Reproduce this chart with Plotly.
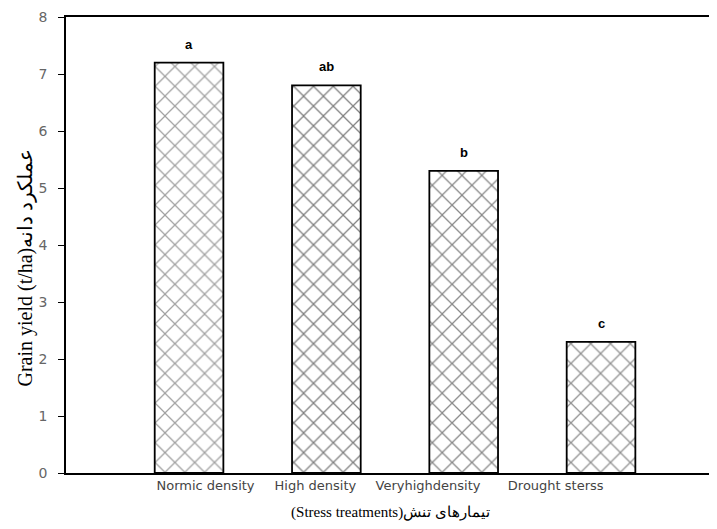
import plotly.graph_objects as go

categories = ["Normic density", "High density", "Veryhighdensity", "Drought sterss"]
grain_yield = [7.2, 6.8, 5.3, 2.3]
letters = ["a", "ab", "b", "c"]
y_ticks = [0, 1, 2, 3, 4, 5, 6, 7, 8]

bar_x = list(range(len(categories)))
label_x = [0.12, 0.92, 1.74, 2.67]
hatch_colors = ["#444444", "#000000", "#111111", "#222222"]

fig = go.Figure()
fig.add_trace(go.Bar(
    x=bar_x, y=grain_yield, width=0.5,
    marker=dict(
        color="white",
        line=dict(color="black", width=1.8),
        pattern=dict(shape="x", fgcolor=hatch_colors,
                     bgcolor="white", size=14, solidity=0.17),
    ),
    showlegend=False,
))

for xi, yi, t in zip(bar_x, grain_yield, letters):
    fig.add_annotation(x=xi, y=yi, text=f"<b>{t}</b>", showarrow=False,
                       yanchor="bottom", yshift=9,
                       font=dict(family="Arial, Liberation Sans", size=13, color="black"))

fig.add_annotation(
    xref="paper", yref="paper", x=-0.062, y=0.45, textangle=-90,
    text="Grain yield (t/ha)عملکرد دانه", showarrow=False,
    xanchor="center", yanchor="middle",
    font=dict(family="Liberation Serif, Times New Roman", size=20, color="black"),
)

fig.update_layout(
    width=709, height=521,
    margin=dict(l=58, r=2, t=9, b=56),
    paper_bgcolor="white", plot_bgcolor="white",
    xaxis=dict(
        range=[-0.896, 3.83], showgrid=False, zeroline=False,
        showline=True, linecolor="black", linewidth=1.5, mirror=True,
        tickvals=label_x, ticktext=categories, ticks="",
        tickfont=dict(family="DejaVu Sans, Liberation Sans", size=13, color="#444444"),
        title=dict(text="(Stress treatments)تیمارهای تنش", standoff=14,
                   font=dict(family="Liberation Serif, Times New Roman", size=15, color="black")),
    ),
    yaxis=dict(
        range=[0, 8], showgrid=False, zeroline=False,
        showline=True, linecolor="black", linewidth=1.5,
        tickvals=y_ticks, ticks="outside", ticklen=6, tickcolor="black",
        ticklabelstandoff=8,
        tickfont=dict(family="DejaVu Sans, Liberation Sans", size=14, color="#666666"),
    ),
)

fig.write_html("out.html")
